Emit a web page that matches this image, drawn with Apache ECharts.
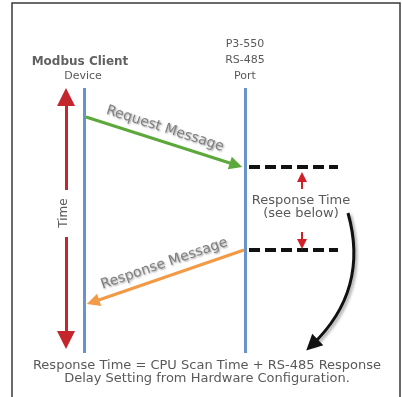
<!DOCTYPE html>
<html>
<head>
<meta charset="utf-8">
<script src="https://cdn.jsdelivr.net/npm/echarts@6/dist/echarts.min.js"></script>
<style>
  html, body { margin: 0; padding: 0; background: #fff; }
  #chart { width: 402px; height: 397px; }
</style>
</head>
<body>
<div id="chart"></div>
<script>
// diagram space is the picture in pixels, y grows downwards
var lane_x = [84, 245];
var lane_span = [88, 353];
var request_msg = [[86, 117], [236, 165]];
var response_msg = [[244, 250], [93, 302]];
var wait_marks_y = [167, 250];
var wait_marks_x = [249, 338];
var time_arrow_up = [[66, 190], [66, 97]];
var time_arrow_down = [[66, 237], [66, 340]];
var small_up = [[302, 189], [302, 177]];
var small_down = [[302, 232], [302, 244]];
var see_below = [[348, 213], [312, 345]];

var head_labels = [
  { name: 'Modbus Client', value: [80, 62], bold: true },
  { name: 'Device', value: [83, 76] },
  { name: 'P3-550', value: [245, 44] },
  { name: 'RS-485', value: [245, 60] },
  { name: 'Port', value: [245, 76] }
];
var note_labels = [
  { name: 'Response Time', value: [301, 201] },
  { name: '(see below)', value: [301, 214] },
  { name: 'Response Time = CPU Scan Time + RS-485 Response', value: [207, 366] },
  { name: 'Delay Setting from Hardware Configuration.', value: [207, 379] }
];
var time_label = [{ name: 'Time', value: [64, 213] }];

var font = 'DejaVu Sans';

function seg(pts){ return { coords: pts }; }

var chart = echarts.init(document.getElementById('chart'));

var msg_label = {
  show: true, position: 'middle', distance: 6,
  fontFamily: font, fontSize: 14, color: '#808080',
  textShadowColor: 'rgba(0,0,0,0.4)', textShadowBlur: 2, textShadowOffsetX: 1, textShadowOffsetY: 1
};

var option = {
  animation: false,
  backgroundColor: '#fff',
  grid: { left: 0, right: 0, top: 0, bottom: 0 },
  xAxis: { type: 'value', min: 0, max: 402, show: false },
  yAxis: { type: 'value', min: 0, max: 397, inverse: true, show: false },
  graphic: [{
    type: 'rect',
    shape: { x: 12, y: 3, width: 388, height: 400 },
    style: { fill: 'none', stroke: '#3a3a3a', lineWidth: 1.5 },
    silent: true
  }],
  series: [
    {
      type: 'lines', coordinateSystem: 'cartesian2d', symbol: 'none',
      lineStyle: { color: '#6794cb', width: 3, opacity: 1 },
      data: lane_x.map(function(x){ return seg([[x, lane_span[0]], [x, lane_span[1]]]); })
    },
    {
      type: 'lines', coordinateSystem: 'cartesian2d',
      symbol: ['none', 'triangle'], symbolSize: [15, 18],
      lineStyle: { color: '#c4262e', width: 3, opacity: 1 },
      data: [seg(time_arrow_up), seg(time_arrow_down)]
    },
    {
      type: 'lines', coordinateSystem: 'cartesian2d',
      symbol: ['none', 'triangle'], symbolSize: [14, 13],
      lineStyle: { color: '#5da83a', width: 3, opacity: 1 },
      label: Object.assign({ formatter: 'Request Message' }, msg_label),
      data: [seg(request_msg)]
    },
    {
      type: 'lines', coordinateSystem: 'cartesian2d',
      symbol: ['none', 'triangle'], symbolSize: [14, 13],
      lineStyle: { color: '#f29a46', width: 3, opacity: 1 },
      label: Object.assign({ formatter: 'Response Message' }, msg_label),
      data: [seg(response_msg)]
    },
    {
      type: 'lines', coordinateSystem: 'cartesian2d', symbol: 'none',
      lineStyle: { color: '#111', width: 4, type: [11, 5], opacity: 1 },
      data: wait_marks_y.map(function(y){ return seg([[wait_marks_x[0], y], [wait_marks_x[1], y]]); })
    },
    {
      type: 'lines', coordinateSystem: 'cartesian2d',
      symbol: ['none', 'triangle'], symbolSize: [9, 10],
      lineStyle: { color: '#d1202a', width: 2, opacity: 1 },
      data: [seg(small_up), seg(small_down)]
    },
    {
      type: 'lines', coordinateSystem: 'cartesian2d',
      symbol: ['none', 'triangle'], symbolSize: [15, 16],
      lineStyle: {
        color: '#111', width: 3, curveness: 0.3, opacity: 1,
        shadowColor: 'rgba(0,0,0,0.35)', shadowBlur: 3, shadowOffsetX: 2, shadowOffsetY: 2
      },
      data: [seg(see_below)]
    },
    {
      type: 'scatter', symbolSize: 0, silent: true,
      label: {
        show: true, position: 'inside', formatter: '{b}',
        fontFamily: font, fontSize: 11, color: '#2e2e2e'
      },
      data: head_labels.map(function(d){
        return { name: d.name, value: d.value,
          label: d.bold ? { fontSize: 12, fontWeight: 'bold', color: '#3a3a3a' } : {} };
      })
    },
    {
      type: 'scatter', symbolSize: 0, silent: true,
      label: {
        show: true, position: 'inside', formatter: '{b}',
        fontFamily: font, fontSize: 13, color: '#2e2e2e'
      },
      data: note_labels
    },
    {
      type: 'scatter', symbolSize: 0, silent: true,
      label: {
        show: true, position: 'inside', formatter: '{b}', rotate: 90,
        fontFamily: font, fontSize: 12, color: '#333'
      },
      data: time_label
    }
  ]
};
chart.setOption(option);
</script>
</body>
</html>
